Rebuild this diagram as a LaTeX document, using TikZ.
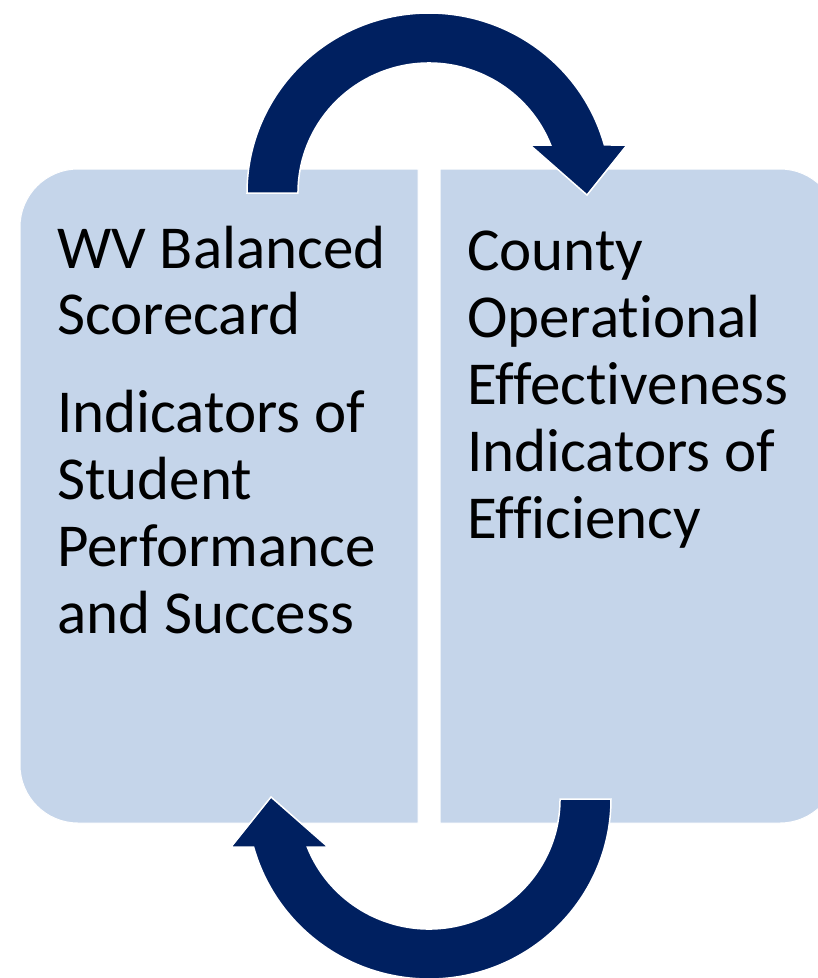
\documentclass[tikz,border=0pt]{standalone}
\usepackage{fontspec}
\setmainfont{Carlito}[Ligatures=NoCommon]
\definecolor{navy}{RGB}{0,32,96}
\definecolor{boxblue}{RGB}{197,213,234}
\tikzset{
  panel/.style={fill=boxblue,draw=white,line width=1pt},
  loop arrow/.style={fill=navy,draw=white,line width=1.5pt,line join=miter},
  paneltext/.style={anchor=base west,inner sep=0pt,align=left,
    font=\fontsize{61}{66.8}\selectfont}
}

\begin{document}
\begin{tikzpicture}[x=1pt,y=-1pt]
    \useasboundingbox (0,0) rectangle (818,978);
    \clip (0,0) rectangle (818,978);

    \def\r{58}
    \draw[panel] (418,169) -- (20+\r,169)
      arc[start angle=270,end angle=180,radius=\r] -- (20,823-\r)
      arc[start angle=180,end angle=90,radius=\r] -- (418,823) -- cycle;
    \draw[panel] (440,169) -- (838-\r,169)
      arc[start angle=270,end angle=360,radius=\r] -- (838,823-\r)
      arc[start angle=0,end angle=90,radius=\r] -- (440,823) -- cycle;

    \foreach \rot in {0,180} {
      \begin{scope}[rotate around={\rot:(429,496)}]
        \draw[loop arrow] (247,193)
          arc[start angle=180,end angle=344.53,x radius=182,y radius=180]
          -- (627,145) -- (587,195) -- (530,145) -- (550.7,145)
          arc[start angle=338.33,end angle=180,x radius=131,y radius=130]
          -- cycle;
      \end{scope}
    }

    % base anchor sits on the last line
    \node[paneltext] (scorecard) at (57,633)
      {WV Balanced\\Scorecard\\[31pt]Indicators of\\Student\\Performance\\and Success};
    \node[paneltext] (county) at (467,538)
      {County\\Operational\\Effectiveness\\Indicators of\\Efficiency};
\end{tikzpicture}
\end{document}
